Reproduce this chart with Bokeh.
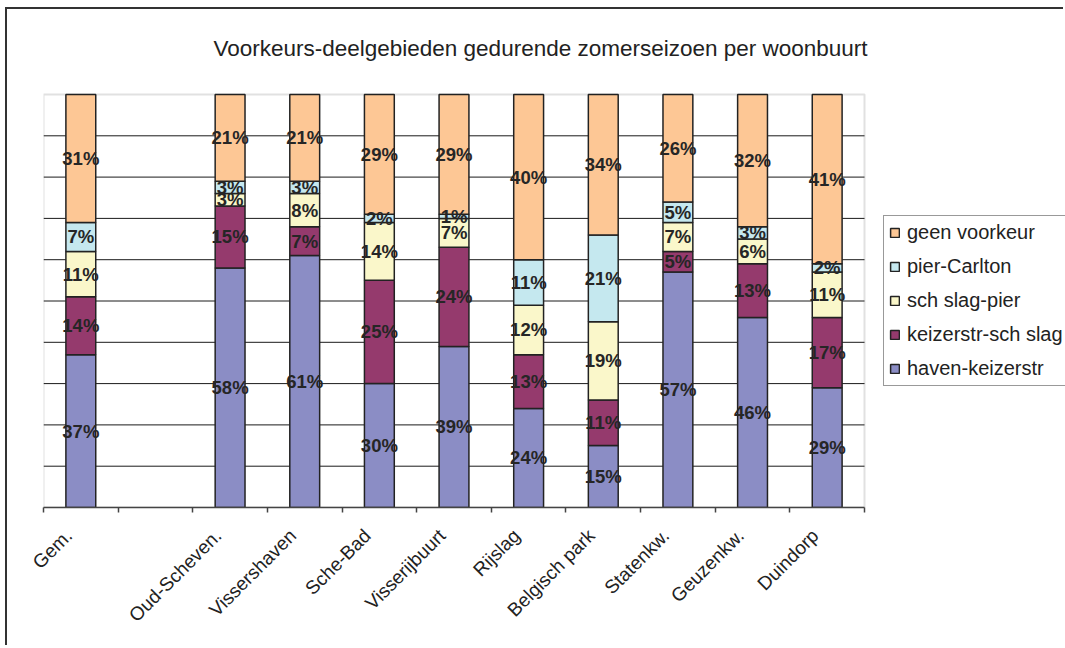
import numpy as np
from bokeh.plotting import figure
from bokeh.models import Range1d, FixedTicker, Legend, LegendItem, BoxAnnotation, Label
from bokeh.core.properties import value
from bokeh.embed import file_html
from bokeh.resources import INLINE

# ---- data ----
categories = ["Gem.", "", "Oud-Scheven.", "Vissershaven", "Sche-Bad", "Visserijbuurt",
              "Rijslag", "Belgisch park", "Statenkw.", "Geuzenkw.", "Duindorp"]
series_names = ["haven-keizerstr", "keizerstr-sch slag", "sch slag-pier", "pier-Carlton", "geen voorkeur"]
haven_keizerstr   = [37, None, 58, 61, 30, 39, 24, 15, 57, 46, 29]
keizerstr_schslag = [14, None, 15, 7, 25, 24, 13, 11, 5, 13, 17]
schslag_pier      = [11, None, 3, 8, 14, 7, 12, 19, 7, 6, 11]
pier_carlton      = [7, None, 3, 3, 2, 1, 11, 21, 5, 3, 2]
geen_voorkeur     = [31, None, 21, 21, 29, 29, 40, 34, 26, 32, 41]
gridlines = [0.1, 0.2, 0.3, 0.4, 0.5, 0.6, 0.7, 0.8, 0.9]
colors = ["#8B8DC5", "#953A6D", "#FAF7CA", "#C5E8EF", "#FDC795"]
title_text = "Voorkeurs-deelgebieden gedurende zomerseizoen per woonbuurt"

series = [haven_keizerstr, keizerstr_schslag, schslag_pier, pier_carlton, geen_voorkeur]
idx = [i for i, c in enumerate(categories) if c != ""]
xs = np.array(idx, dtype=float) + 0.5
vals = np.array([[s[i] for i in idx] for s in series], dtype=float) / 100.0
tops = np.cumsum(vals, axis=0)
bottoms = tops - vals
n = len(categories)

# ---- layout (pixels) ----
W, H = 1058, 638
LEFT, BOTTOM = 36, 140
PLOT_W, PLOT_H = 821, 413        # size of the bar area
FRAME_W = W - LEFT               # frame runs to the right edge (legend lives there)
FRAME_H = H - BOTTOM             # and up to the top edge (title lives there)
x_end = n * FRAME_W / PLOT_W
y_end = FRAME_H / PLOT_H
label_shift = 0.16               # category labels sit slightly left of the slot centre

p = figure(width=W, height=H, x_range=Range1d(0, x_end), y_range=Range1d(0, y_end),
           output_backend="svg", toolbar_location=None,
           min_border_left=LEFT, min_border_right=0, min_border_top=0, min_border_bottom=BOTTOM)
p.styles = {"border-left": "2px solid #333333", "border-top": "2px solid #333333",
            "margin-left": "5px", "margin-top": "7px"}
p.background_fill_color = "white"
p.border_fill_color = "white"
p.outline_line_color = None

# grid (limited to the bar area)
p.xgrid.visible = False
p.ygrid.visible = False
p.yaxis.visible = False
p.segment(x0=[0] * len(gridlines), x1=[n] * len(gridlines), y0=gridlines, y1=gridlines,
          line_color="#1A1A1A", line_width=1)
p.add_layout(BoxAnnotation(left=0, right=n, bottom=0, top=1, fill_alpha=0,
                           line_color="#9C9C9C", line_width=2, level="underlay"))

# x axis: labels near slot centres, ticks at slot boundaries
label_pos = [i + 0.5 - label_shift for i in range(n)]
p.xaxis.bounds = (0, n)
p.xaxis.ticker = FixedTicker(ticks=label_pos, minor_ticks=list(range(n + 1)))
p.xaxis.major_label_overrides = {c: name for c, name in zip(label_pos, categories)}
p.xaxis.major_tick_out = 0
p.xaxis.major_tick_in = 0
p.xaxis.minor_tick_out = 5
p.xaxis.minor_tick_in = 0
p.xaxis.minor_tick_line_color = "#444444"
p.xaxis.minor_tick_line_width = 1.5
p.xaxis.axis_line_color = "#444444"
p.xaxis.axis_line_width = 1.5
p.xaxis.major_label_orientation = np.pi / 4
p.xaxis.major_label_standoff = 20
p.xaxis.major_label_text_font = "Liberation Sans"
p.xaxis.major_label_text_font_size = "19px"
p.xaxis.major_label_text_color = "#222222"

renderers = []
for k, name in enumerate(series_names):
    r = p.vbar(x=xs, bottom=bottoms[k], top=tops[k], width=0.4,
               fill_color=colors[k], line_color="#222222", line_width=1.5)
    renderers.append(r)

for k in range(len(series_names)):
    labels = [f"{int(round(v * 100))}%" for v in vals[k]]
    p.text(x=xs, y=(bottoms[k] + tops[k]) / 2, text=labels,
           text_font=value("Liberation Sans"), text_font_style="bold",
           text_font_size="18.5px", text_align="center", text_baseline="middle",
           text_color="#262626")

# title (inside the extended frame, above the bar area)
p.add_layout(Label(x=497, y=459, x_units="screen", y_units="screen", text=title_text,
                   text_font="Liberation Sans", text_font_size="22.5px",
                   text_align="center", text_baseline="alphabetic", text_color="#222222"))

legend = Legend(items=[LegendItem(label=series_names[k], renderers=[renderers[k]])
                       for k in reversed(range(len(series_names)))],
                location=(840, 121))
legend.margin = 0
legend.padding = 5
legend.spacing = 11
legend.glyph_width = 11
legend.glyph_height = 11
legend.label_height = 20
legend.label_standoff = 7
legend.label_text_font = "Liberation Sans"
legend.label_text_font_size = "20px"
legend.label_text_color = "#222222"
legend.border_line_color = "#333333"
legend.border_line_width = 1
legend.background_fill_alpha = 1.0
p.add_layout(legend)

open("out.html", "w").write(file_html(p, INLINE))
